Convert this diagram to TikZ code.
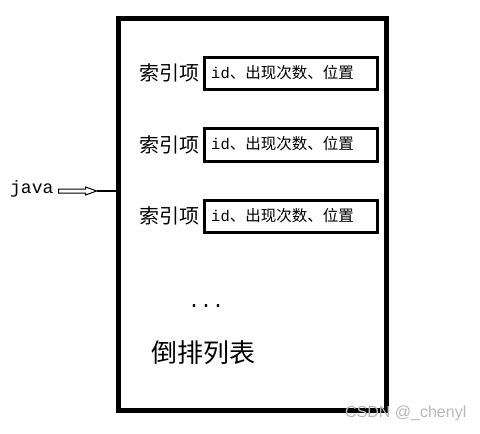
\documentclass[tikz,border=0pt]{standalone}
\usepackage{fontspec}
\setmainfont{Liberation Serif}
\newfontfamily\cjk{Noto Sans CJK SC}
\newfontfamily\monof{Liberation Mono}
\newfontfamily\wmfont{Liberation Sans}
\usetikzlibrary{calc}
\tikzset{
  outerbox/.style={draw, line width=5pt, outer sep=0pt, inner sep=0pt, minimum width=267.5pt, minimum height=391.5pt},
  itembox/.style={draw, line width=3pt, outer sep=0pt, inner sep=0pt, minimum width=173pt, minimum height=32.5pt},
  itemtext/.style={inner sep=0pt, anchor=west, font=\fontsize{15.5}{16}\selectfont},
  itemlabel/.style={inner sep=0pt, anchor=east, font=\cjk\fontsize{20}{22}\selectfont},
  plain/.style={inner sep=0pt},
}
\begin{document}
\begin{tikzpicture}[x=1pt,y=-1pt]
\useasboundingbox[fill=white] (0,0) rectangle (480,434);
\node[outerbox, anchor=north west] (outer) at (118.5,18.5) {};
% index entries
\foreach \i/\yy in {1/57, 2/128.5, 3/200} {
  \node[itembox, anchor=north west] (box\i) at (204.5,\yy) {};
  \node[itemtext] (txt\i) at ($(box\i.west)+(6.5,-1)$) {{\monof id}{\cjk 、出现次数、位置}};
  \node[itemlabel] (lab\i) at ($(box\i.west)+(-5,0)$) {索引项};
}
% java arrow
\node[plain, anchor=west, font=\monof\fontsize{18}{20}\selectfont] (java) at (10,189) {java};
\coordinate (s) at ($(java.east)+(5,2)$);
\draw[line width=1pt, fill=white] (s) ++(0,-2) -- ++(27,0) -- ++(0,-2) -- ++(11,4) -- ++(-11,4) -- ++(0,-2) -- ++(-27,0) -- cycle;
\coordinate (h) at ($(s)+(38,0)$);
\draw[line width=2.3pt] (h) -- (h -| outer.west);
% dots and title
\node[plain, anchor=base west, font=\monof\fontsize{20}{22}\selectfont] (dots) at (188,307) {...};
\node[plain, anchor=west, font=\cjk\fontsize{26}{28}\selectfont] (title) at (151,353) {倒排列表};
% watermark
\node[plain, anchor=west, text=black!28, font=\wmfont\fontsize{16}{18}\selectfont] (wm) at (345,413) {CSDN @\_chenyl};
\end{tikzpicture}
\end{document}
